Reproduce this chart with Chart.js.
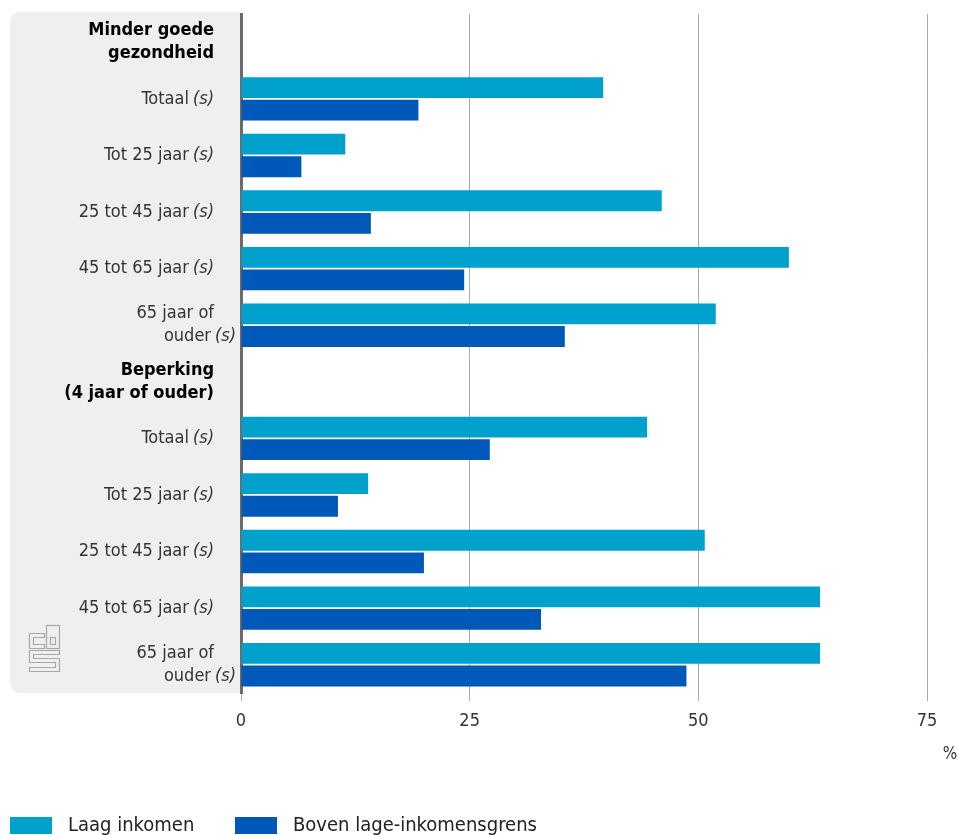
<!DOCTYPE html>
<html>
<head>
<meta charset="utf-8">
<script src="https://cdn.jsdelivr.net/npm/chart.js@4/dist/chart.umd.min.js"></script>
<style>
  html, body { margin: 0; padding: 0; background: #fff; overflow: hidden; }
  #wrap { width: 959px; height: 835px; overflow: hidden; }
</style>
</head>
<body>
<div id="wrap"><canvas id="chart" width="959" height="835"></canvas></div>
<script>
// categories (multi-line labels), header rows have no bars
const categoryLabels = [
    ["Minder goede", "gezondheid"],
    ["Totaal"],
    ["Tot 25 jaar"],
    ["25 tot 45 jaar"],
    ["45 tot 65 jaar"],
    ["65 jaar of", "ouder"],
    ["Beperking", "(4 jaar of ouder)"],
    ["Totaal"],
    ["Tot 25 jaar"],
    ["25 tot 45 jaar"],
    ["45 tot 65 jaar"],
    ["65 jaar of", "ouder"]
];
const headerRows = [0, 6];
const labelSuffix = "(s)";

const seriesNames = ["Laag inkomen", "Boven lage-inkomensgrens"];
const laagInkomen = [null, 39.6, 11.4, 46.0, 59.9, 51.9, null, 44.4, 13.9, 50.7, 63.3, 63.3];
const bovenGrens  = [null, 19.4, 6.6, 14.2, 24.4, 35.4, null, 27.2, 10.6, 20.0, 32.8, 48.7];
const xTicks = [0, 25, 50, 75];
const unitLabel = "%";

const FONT = "'DejaVu Sans Condensed', 'Roboto', sans-serif";

// grey panel behind the labels + cbs logo
const panelPlugin = {
    id: "panel",
    beforeDraw(chart) {
        let ctx = chart.ctx;
        let a = chart.chartArea;
        ctx.save();
        ctx.fillStyle = "#efefef";
        ctx.beginPath();
        ctx.roundRect(10, 12, a.left - 10, a.bottom - 12, [10, 0, 0, 10]);
        ctx.fill();

        // logo, drawn as outlines
        ctx.strokeStyle = "#a8a8a8";
        ctx.lineWidth = 1.2;
        ctx.beginPath();
        ctx.moveTo(44.5, 633.5); ctx.lineTo(29.5, 633.5); ctx.lineTo(29.5, 648.5); ctx.lineTo(44.5, 648.5);
        ctx.lineTo(44.5, 644.5); ctx.lineTo(33.5, 644.5); ctx.lineTo(33.5, 637.5); ctx.lineTo(44.5, 637.5);
        ctx.closePath();
        ctx.stroke();
        ctx.strokeRect(46.5, 625.5, 13, 23);
        ctx.strokeRect(50.5, 637.5, 5, 7);
        ctx.beginPath();
        ctx.moveTo(29.5, 650.5); ctx.lineTo(59.5, 650.5); ctx.lineTo(59.5, 654.5);
        ctx.lineTo(33.5, 654.5); ctx.lineTo(33.5, 658.5); ctx.lineTo(59.5, 658.5);
        ctx.lineTo(59.5, 671.5); ctx.lineTo(29.5, 671.5); ctx.lineTo(29.5, 667.5);
        ctx.lineTo(55.5, 667.5); ctx.lineTo(55.5, 662.5); ctx.lineTo(29.5, 662.5);
        ctx.closePath();
        ctx.stroke();
        ctx.restore();
    },
    afterDraw(chart) {
        let ctx = chart.ctx;
        let y = chart.scales.y;
        let right = 214;
        let lineH = 23;
        ctx.save();
        ctx.textBaseline = "middle";
        categoryLabels.forEach((lines, i) => {
            let cy = y.getPixelForValue(i);
            let top = cy - (lines.length - 1) * lineH / 2;
            let header = headerRows.includes(i);
            lines.forEach((line, k) => {
                let ly = top + k * lineH;
                ctx.fillStyle = header ? "#000" : "#333";
                ctx.font = (header ? "bold " : "") + "18px " + FONT;
                ctx.textAlign = "right";
                let last = k === lines.length - 1;
                if (header || !last) {
                    ctx.fillText(line, right, ly);
                    return;
                }
                ctx.font = "italic 18px " + FONT;
                let sw = ctx.measureText(labelSuffix).width;
                ctx.font = "18px " + FONT;
                let gap = 4;
                if (lines.length === 1) {
                    ctx.fillText(line, right - sw - gap, ly);
                    ctx.font = "italic 18px " + FONT;
                    ctx.textAlign = "left";
                    ctx.fillText(labelSuffix, right - sw, ly);
                } else {
                    ctx.fillText(line, right - 3, ly);
                    ctx.font = "italic 18px " + FONT;
                    ctx.textAlign = "left";
                    ctx.fillText(labelSuffix, right - 3 + gap, ly);
                }
            });
        });

        // unit label
        ctx.font = "17px " + FONT;
        ctx.fillStyle = "#333";
        ctx.textAlign = "center";
        ctx.fillText(unitLabel, 950, 755);

        // legend
        let legendX = [10, 235];
        ctx.font = "20px " + FONT;
        ctx.textAlign = "left";
        chart.data.datasets.forEach((ds, i) => {
            ctx.fillStyle = ds.backgroundColor;
            ctx.fillRect(legendX[i], 817, 42, 17);
            ctx.fillStyle = "#222";
            ctx.fillText(ds.label, legendX[i] + 58, 826);
        });
        ctx.restore();
    }
};

let ctx = document.getElementById("chart").getContext("2d");
new Chart(ctx, {
    type: "bar",
    data: {
        labels: categoryLabels.map(l => l.join(" ")),
        datasets: [{
            label: seriesNames[0],
            data: laagInkomen,
            backgroundColor: "#00a1cd"
        }, {
            label: seriesNames[1],
            data: bovenGrens,
            backgroundColor: "#0058b8"
        }]
    },
    options: {
        indexAxis: "y",
        responsive: false,
        animation: false,
        devicePixelRatio: 1,
        categoryPercentage: 0.8,
        barPercentage: 0.92,
        layout: { padding: { left: 0, right: 32, top: 14, bottom: 0 } },
        scales: {
            x: {
                min: 0,
                max: 75,
                afterBuildTicks: axis => { axis.ticks = xTicks.map(v => ({ value: v })); },
                afterFit: axis => { axis.height = 142; },
                ticks: { color: "#333", font: { family: FONT, size: 18 }, padding: 10 },
                grid: { color: "#ababab", lineWidth: 1, tickLength: 8 },
                border: { display: false }
            },
            y: {
                afterFit: axis => { axis.width = 241; },
                ticks: { display: false },
                grid: { display: false },
                border: { color: "#6b6b6b", width: 3 }
            }
        },
        plugins: {
            tooltip: { enabled: false },
            legend: { display: false }
        }
    },
    plugins: [panelPlugin]
});
</script>
</body>
</html>
